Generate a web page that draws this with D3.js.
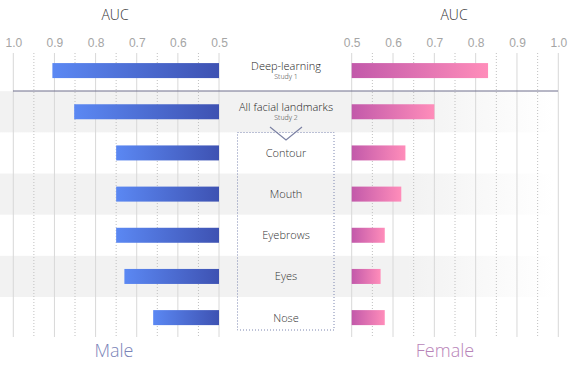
<!DOCTYPE html>
<html><head><meta charset="utf-8">
<script src="https://cdn.jsdelivr.net/npm/d3@7"></script>
<style>
html,body{margin:0;padding:0;background:#fff;}
svg{display:block;font-family:"Open Sans","Segoe UI",sans-serif;font-weight:300;}
</style></head>
<body><svg id="chart" width="582" height="368"></svg>
<script>
const categories = ["Deep-learning","All facial landmarks","Contour","Mouth","Eyebrows","Eyes","Nose"];
const subtitles = ["Study 1","Study 2","","","","",""];
const maleAUC = [0.905,0.852,0.75,0.75,0.75,0.73,0.66];
const femaleAUC = [0.83,0.70,0.63,0.62,0.58,0.57,0.58];
const tickValues = [0.5,0.6,0.7,0.8,0.9,1.0];
const minorTicks = [0.55,0.65,0.75,0.85,0.95];

const svg = d3.select("#chart");
const W = 582, H = 368;
const xL = d3.scaleLinear().domain([0.5,1.0]).range([219,13.3]);
const xR = d3.scaleLinear().domain([0.5,1.0]).range([351.7,558.3]);
const y = d3.scaleBand().domain(categories).range([50,338.2]).paddingInner(0);
const barH = 15;

const defs = svg.append("defs");
const gm = defs.append("linearGradient").attr("id","gMale").attr("x1","0").attr("x2","1");
gm.append("stop").attr("offset","0").attr("stop-color","#5b88f3");
gm.append("stop").attr("offset","1").attr("stop-color","#3e52b2");
const gf = defs.append("linearGradient").attr("id","gFemale").attr("x1","0").attr("x2","1");
gf.append("stop").attr("offset","0").attr("stop-color","#c259aa");
gf.append("stop").attr("offset","1").attr("stop-color","#ff8dba");
const gb = defs.append("linearGradient").attr("id","gBand").attr("x1","0").attr("x2","1");
gb.append("stop").attr("offset","0").attr("stop-color","#f2f2f2");
gb.append("stop").attr("offset","0.7").attr("stop-color","#f2f2f2");
gb.append("stop").attr("offset","0.95").attr("stop-color","#ffffff");

// alternating bands
svg.append("g").selectAll("rect").data(categories.filter((d,i)=>i%2===1)).join("rect")
  .attr("x",0).attr("width",W).attr("y",d=>y(d)).attr("height",y.bandwidth())
  .attr("fill","url(#gBand)");

// gridlines
const gy0 = 53, gy1 = 337;
[xL,xR].forEach(sc=>{
  svg.append("g").selectAll("line").data(tickValues).join("line")
    .attr("x1",d=>sc(d)).attr("x2",d=>sc(d)).attr("y1",gy0).attr("y2",gy1)
    .attr("stroke","#d8d8d8").attr("stroke-width",1);
  svg.append("g").selectAll("line").data(minorTicks).join("line")
    .attr("x1",d=>sc(d)).attr("x2",d=>sc(d)).attr("y1",gy0).attr("y2",gy1)
    .attr("stroke","#c0c0c0").attr("stroke-width",1).attr("stroke-dasharray","1,2");
});

// axes
const fmt = d3.format(".1f");
const axL = svg.append("g").attr("transform","translate(0,47)")
  .call(d3.axisTop(xL).tickValues(tickValues).tickFormat(fmt).tickSize(0).tickPadding(0));
const axR = svg.append("g").attr("transform","translate(0,47)")
  .call(d3.axisTop(xR).tickValues(tickValues).tickFormat(fmt).tickSize(0).tickPadding(0));
[axL,axR].forEach(a=>{
  a.select(".domain").remove();
  a.selectAll("text").attr("fill","#a5a5a5").style("font-size","12px").style("font-family","inherit").attr("dy","0");
});

svg.append("text").attr("x",115).attr("y",20).attr("text-anchor","middle")
  .attr("fill","#333").style("font-size","14px").text("AUC");
svg.append("text").attr("x",454).attr("y",20).attr("text-anchor","middle")
  .attr("fill","#333").style("font-size","14px").text("AUC");

// separator line
svg.append("line").attr("x1",13).attr("x2",558).attr("y1",91).attr("y2",91)
  .attr("stroke","#6e6e8c").attr("stroke-width",1);

// dotted box + chevron
svg.append("rect").attr("x",237.5).attr("y",132.5).attr("width",96.5).attr("height",197.5)
  .attr("fill","none").attr("stroke","#7d86b0").attr("stroke-dasharray","1,2");
svg.append("path").attr("d","M270,127 L286,140 L302,127")
  .attr("fill","none").attr("stroke","#7c82a4").attr("stroke-width",1.2);

// bars
const cy = d => y(d) + y.bandwidth()/2;
svg.append("g").selectAll("rect").data(categories).join("rect")
  .attr("x",(d,i)=>xL(maleAUC[i])).attr("width",(d,i)=>xL(0.5)-xL(maleAUC[i]))
  .attr("y",d=>cy(d)-barH/2).attr("height",barH).attr("fill","url(#gMale)");
svg.append("g").selectAll("rect").data(categories).join("rect")
  .attr("x",xR(0.5)).attr("width",(d,i)=>xR(femaleAUC[i])-xR(0.5))
  .attr("y",d=>cy(d)-barH/2).attr("height",barH).attr("fill","url(#gFemale)");

// center labels
const lab = svg.append("g");
categories.forEach((c,i)=>{
  if(subtitles[i]){
    lab.append("text").attr("x",286).attr("y",cy(c)-1).attr("text-anchor","middle")
      .attr("fill","#222").style("font-size","11px").text(c);
    lab.append("text").attr("x",286).attr("y",cy(c)+8.5).attr("text-anchor","middle")
      .attr("fill","#333").style("font-size","7px").text(subtitles[i]);
  } else {
    lab.append("text").attr("x",286).attr("y",cy(c)+4).attr("text-anchor","middle")
      .attr("fill","#333").style("font-size","11px").text(c);
  }
});

svg.append("text").attr("x",114).attr("y",357).attr("text-anchor","middle")
  .attr("fill","#7a84b8").style("font-size","18px").text("Male");
svg.append("text").attr("x",445).attr("y",357).attr("text-anchor","middle")
  .attr("fill","#b884b8").style("font-size","18px").text("Female");
</script></body></html>
